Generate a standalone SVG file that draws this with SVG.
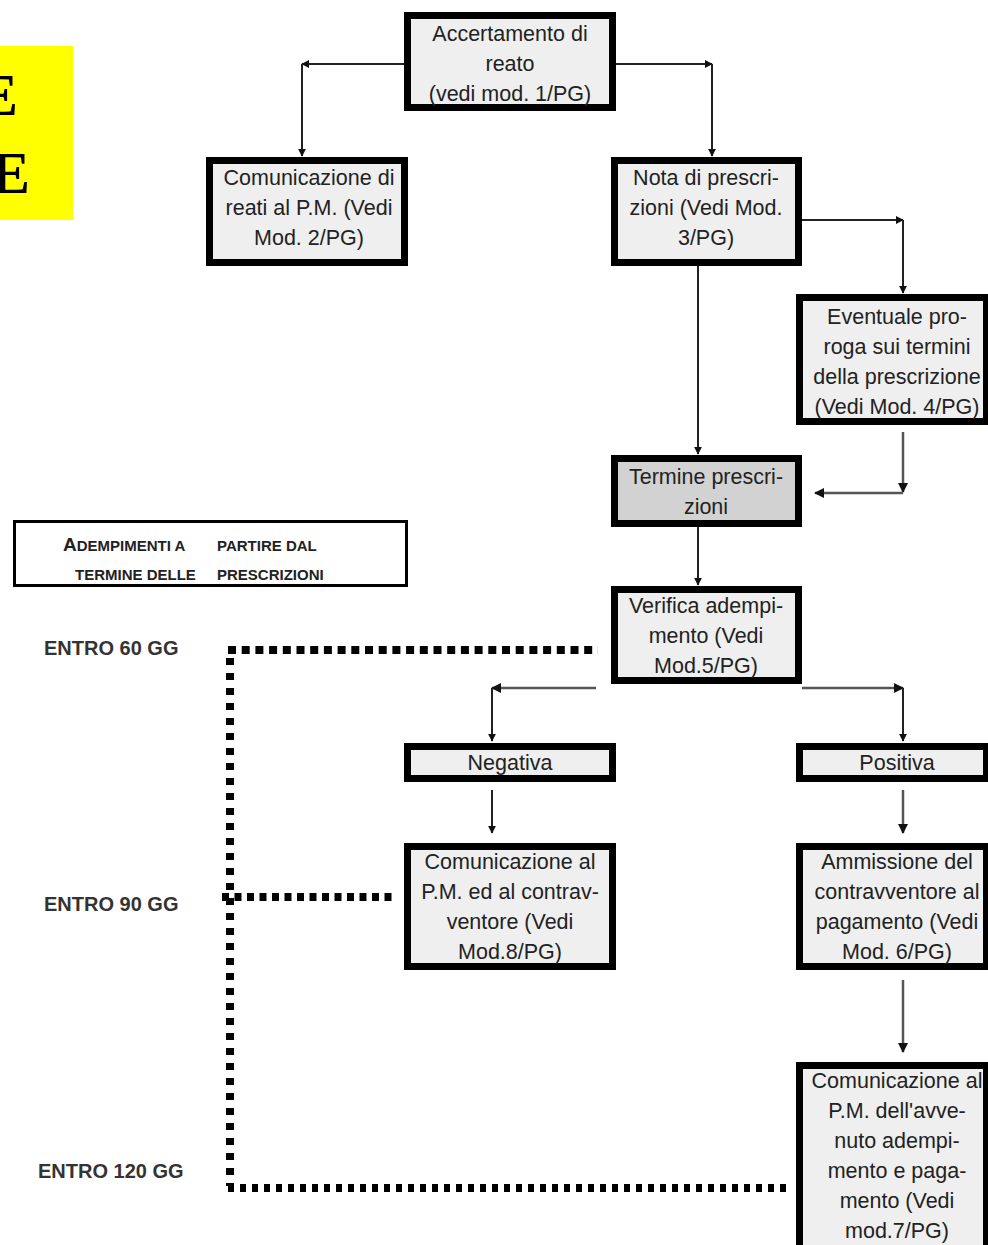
<svg xmlns="http://www.w3.org/2000/svg" width="988" height="1245" viewBox="0 0 988 1245">
<style>
.box{fill:#efefef;stroke:#000;stroke-width:7}
.dark{fill:#d2d2d2}
.t{font-family:"Liberation Sans",Arial,sans-serif;font-size:21.5px;fill:#222;text-anchor:middle}
.lbl{font-family:"Liberation Sans",Arial,sans-serif;font-size:20px;font-weight:bold;fill:#333}
.leg{font-family:"Liberation Sans",Arial,sans-serif;font-size:15px;font-weight:bold;fill:#222}
.c{fill:none;stroke:#222;stroke-width:2}
.g{fill:none;stroke:#555;stroke-width:2.5}
.dot{fill:none;stroke:#000;stroke-width:8}
</style>
<defs>
<marker id="ah" viewBox="0 0 10 10" refX="9" refY="5" markerWidth="4" markerHeight="4" orient="auto" markerUnits="strokeWidth">
<path d="M0,0 L10,5 L0,10 z" fill="#111"/>
</marker>
</defs>
<rect x="0" y="46" width="73" height="174" fill="#ffff00"/>
<text x="-22" y="115" font-family="Liberation Serif,serif" font-weight="bold" font-size="60" fill="#000">E</text>
<text x="-10" y="193" font-family="Liberation Serif,serif" font-weight="bold" font-size="60" fill="#000">E</text>

<g id="connectors">
<line class="c" x1="404" y1="64" x2="302" y2="64" marker-end="url(#ah)"/>
<line class="c" x1="302" y1="64" x2="302" y2="156" marker-end="url(#ah)"/>
<line class="c" x1="616" y1="64" x2="712" y2="64" marker-end="url(#ah)"/>
<line class="c" x1="712" y1="64" x2="712" y2="156" marker-end="url(#ah)"/>
<line class="c" x1="802" y1="220" x2="903" y2="220" marker-end="url(#ah)"/>
<line class="c" x1="903" y1="220" x2="903" y2="293" marker-end="url(#ah)"/>
<line class="c" x1="698" y1="266" x2="698" y2="454" marker-end="url(#ah)"/>
<line class="g" x1="903" y1="432" x2="903" y2="492" marker-end="url(#ah)"/>
<line class="g" x1="903" y1="493" x2="815" y2="493" marker-end="url(#ah)"/>
<line class="c" x1="698" y1="527" x2="698" y2="585" marker-end="url(#ah)"/>
<line class="g" x1="596" y1="688" x2="492" y2="688" marker-end="url(#ah)"/>
<line class="c" x1="492" y1="688" x2="492" y2="741" marker-end="url(#ah)"/>
<line class="g" x1="802" y1="688" x2="903" y2="688" marker-end="url(#ah)"/>
<line class="c" x1="903" y1="688" x2="903" y2="741" marker-end="url(#ah)"/>
<line class="c" x1="492" y1="790" x2="492" y2="833" marker-end="url(#ah)"/>
<line class="g" x1="903" y1="790" x2="903" y2="833" marker-end="url(#ah)"/>
<line class="g" x1="903" y1="980" x2="903" y2="1052" marker-end="url(#ah)"/>
<line class="dot" x1="228" y1="650" x2="598" y2="650" stroke-dasharray="8 5.7"/>
<line class="dot" x1="230" y1="658" x2="230" y2="1186" stroke-width="7" stroke-dasharray="7 8"/>
<line class="dot" x1="222" y1="897" x2="392" y2="897" stroke-width="6" stroke-dasharray="7 5.5"/>
<line class="dot" x1="228" y1="1188" x2="790" y2="1188" stroke-width="8" stroke-dasharray="6 6"/>
</g>

<g id="n1"><rect class="box" x="407.5" y="15.5" width="205" height="92"/>
<text class="t" x="510" y="41">Accertamento di</text><text class="t" x="510" y="71">reato</text><text class="t" x="510" y="101">(vedi mod. 1/PG)</text></g>

<g id="n2"><rect class="box" x="209.5" y="160.5" width="195" height="102"/>
<text class="t" x="309" y="185">Comunicazione di</text><text class="t" x="309" y="215">reati al P.M. (Vedi</text><text class="t" x="309" y="245">Mod. 2/PG)</text></g>

<g id="n3"><rect class="box" x="614.5" y="160.5" width="184" height="102"/>
<text class="t" x="706" y="185">Nota di prescri-</text><text class="t" x="706" y="215">zioni (Vedi Mod.</text><text class="t" x="706" y="245">3/PG)</text></g>

<g id="n4"><rect class="box" x="799.5" y="297.5" width="187" height="124"/>
<text class="t" x="897" y="324">Eventuale pro-</text><text class="t" x="897" y="354">roga sui termini</text><text class="t" x="897" y="384">della prescrizione</text><text class="t" x="897" y="414">(Vedi Mod. 4/PG)</text></g>

<g id="n5"><rect class="box dark" x="614.5" y="458.5" width="184" height="65"/>
<text class="t" x="706" y="484">Termine prescri-</text><text class="t" x="706" y="514">zioni</text></g>

<g id="legend"><rect x="14.5" y="521.5" width="392" height="64" fill="#fff" stroke="#000" stroke-width="3"/>
<text class="leg" x="63" y="551"><tspan font-size="19">A</tspan>DEMPIMENTI A</text>
<text class="leg" x="217" y="551">PARTIRE DAL</text>
<text class="leg" x="75" y="580">TERMINE DELLE</text>
<text class="leg" x="217" y="580">PRESCRIZIONI</text></g>

<g id="n7"><rect class="box" x="614.5" y="589.5" width="184" height="91"/>
<text class="t" x="706" y="613">Verifica adempi-</text><text class="t" x="706" y="643">mento (Vedi</text><text class="t" x="706" y="673">Mod.5/PG)</text></g>

<g id="n8"><rect class="box" x="407.5" y="746.5" width="205" height="32"/>
<text class="t" x="510" y="770">Negativa</text></g>

<g id="n9"><rect class="box" x="799.5" y="746.5" width="187" height="32"/>
<text class="t" x="897" y="770">Positiva</text></g>

<g id="n10"><rect class="box" x="407.5" y="846.5" width="205" height="120"/>
<text class="t" x="510" y="869">Comunicazione al</text><text class="t" x="510" y="899">P.M. ed al contrav-</text><text class="t" x="510" y="929">ventore (Vedi</text><text class="t" x="510" y="959">Mod.8/PG)</text></g>

<g id="n11"><rect class="box" x="799.5" y="846.5" width="187" height="120"/>
<text class="t" x="897" y="869">Ammissione del</text><text class="t" x="897" y="899">contravventore al</text><text class="t" x="897" y="929">pagamento (Vedi</text><text class="t" x="897" y="959">Mod. 6/PG)</text></g>

<g id="n12"><rect class="box" x="799.5" y="1065.5" width="187" height="190"/>
<text class="t" x="897" y="1088">Comunicazione al</text><text class="t" x="897" y="1118">P.M. dell'avve-</text><text class="t" x="897" y="1148">nuto adempi-</text><text class="t" x="897" y="1178">mento e paga-</text><text class="t" x="897" y="1208">mento (Vedi</text><text class="t" x="897" y="1238">mod.7/PG)</text></g>

<g id="labels">
<text class="lbl" x="44" y="655">ENTRO 60 GG</text>
<text class="lbl" x="44" y="911">ENTRO 90 GG</text>
<text class="lbl" x="38" y="1178">ENTRO 120 GG</text>
</g>
</svg>
